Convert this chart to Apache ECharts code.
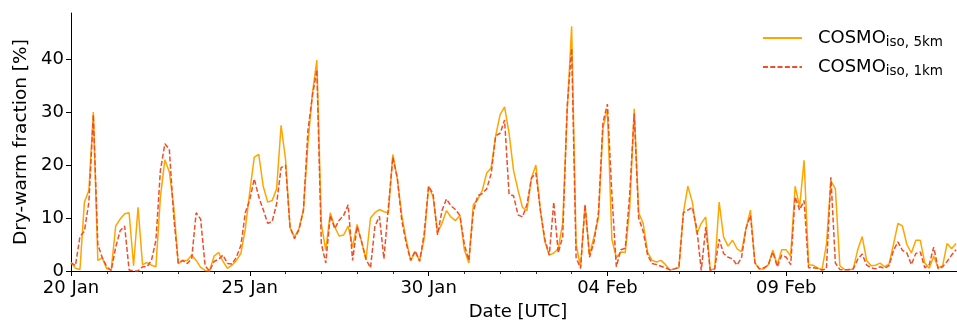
<!DOCTYPE html>
<html>
<head>
<meta charset="utf-8">
<script src="https://cdn.jsdelivr.net/npm/echarts@6/dist/echarts.min.js"></script>
<style>
    html, body { margin: 0; padding: 0; background: #fff; }
    #chart { width: 957px; height: 322px; }
</style>
</head>
<body>
<div id="chart"></div>
<script>
// 3-hourly values starting 20 Jan 00 UTC, one row per day
const startDate = Date.UTC(2020, 0, 20);
const stepHours = 3;
const monthNames = ['Jan', 'Feb', 'Mar', 'Apr', 'May', 'Jun', 'Jul', 'Aug', 'Sep', 'Oct', 'Nov', 'Dec'];

const fiveKm = [
    1.6, 0.5, 0.3, 13, 15.2, 30, 2, 2.5,
    0.4, 0.2, 8.5, 9.8, 10.8, 11, 1, 12,
    1.2, 1.6, 1.1, 0.8, 14, 21, 18.7, 12,
    1.4, 2, 2, 3.0, 2, 0.7, 0.1, 0,
    2.8, 3.5, 1.8, 0.5, 1.1, 2.0, 3.3, 8,
    15, 21.5, 22, 16, 13, 13.3, 15.5, 27.5,
    21, 8.2, 6.4, 8, 11.5, 24, 33.5, 39.8,
    8.9, 3.9, 11, 8.3, 6.6, 6.8, 8.5, 4.5,
    8.8, 5.5, 2.2, 10, 11, 11.6, 11.2, 11,
    22, 17.5, 10.5, 5.8, 2, 3.6, 2, 6,
    16, 14, 7.3, 9, 11.4, 10.2, 9.5, 10.5,
    4, 1.5, 12.5, 13.5, 15.2, 18.5, 19.5, 25.5,
    29.5, 31, 26, 19, 15.3, 12, 11.4, 17.5,
    20, 11.5, 5.5, 3, 3.4, 4.2, 9, 30,
    46.2, 5, 0.8, 12.5, 3, 6.5, 10, 27,
    30.5, 6, 2.5, 3.6, 3.5, 12, 30.6, 11,
    9, 3.5, 2, 1.7, 2, 1.2, 0.2, 0.4,
    0.6, 11, 16, 13, 7, 9, 10.2, 0.2,
    0.4, 13, 6.4, 4.7, 5.8, 4.2, 3.6, 8,
    11.5, 1.5, 0.4, 0.4, 1.2, 3.9, 1.2, 4,
    4, 2.8, 16, 12.1, 20.9, 1.2, 1.1, 0.6,
    0.2, 5, 17, 15.5, 1, 0.3, 0.2, 0.4,
    4, 6.5, 2, 1, 1.1, 1.5, 0.8, 1.3,
    5, 9, 8.5, 5, 3.4, 5.8, 5.8, 1.5,
    0.5, 2.8, 0.6, 1, 5.2, 4.2, 5.2
];

const oneKm = [
    1.6, 1.0, 6.5, 7.5, 13, 29.5, 5, 2.5,
    0.8, 0.1, 4.5, 7.6, 8.5, 0.2, 0, 0,
    0.8, 0.8, 2, 5.8, 19, 24, 23, 10,
    1.5, 2, 1.4, 2.3, 11, 9.8, 1, 0,
    1.8, 2.2, 3, 1.4, 1.3, 2.6, 4.8, 11,
    13.5, 17.4, 14, 11.6, 9, 9.3, 12.7, 19.5,
    20, 8.3, 6.1, 7.8, 11.5, 26.5, 33, 38,
    5.2, 1.5, 10.5, 8, 9.6, 10.5, 12.5, 2,
    8.4, 5.6, 2.2, 0.6, 8.5, 10.3, 2.3, 12,
    21.5, 17.5, 9.5, 5.2, 2, 3.8, 1.8, 7,
    16, 14.6, 6.8, 11.4, 13.6, 12.3, 11.6, 10.5,
    5, 2, 11.2, 14.2, 14.6, 15.5, 18.4, 25.5,
    26, 28.5, 14.5, 14.2, 10.6, 10.2, 12.5, 17.5,
    18.5, 11.5, 6, 3, 13, 3.4, 6.5, 31,
    42, 2.5, 0.5, 12.5, 2.6, 5.5, 11, 28,
    31.5, 14.5, 0.8, 4, 4.3, 14.6, 29.7, 10,
    7.5, 3, 1.4, 1.2, 0.9, 0.6, 0.2, 0.4,
    0.7, 11, 11.5, 12, 8, 0.1, 8.3, 0.1,
    0.4, 6, 3.3, 2.6, 2.3, 1.1, 2.5, 8,
    10.5, 1.6, 0.4, 0.6, 1.1, 3.6, 0.8, 3,
    2.6, 1.2, 14, 11.5, 13.3, 0.6, 0.6, 0.5,
    0.2, 0.4, 17.7, 1.5, 0.3, 0.2, 0.3, 0.4,
    2.2, 3.2, 1.1, 0.6, 0.4, 0.8, 0.5, 1,
    3.9, 5.5, 3.9, 3.4, 1.2, 3.3, 3.6, 0.6,
    1.2, 4.5, 0.4, 0.8, 1.8, 3, 4
];

const seriesNames = ['COSMO iso, 5km', 'COSMO iso, 1km'];
const subscripts = {'COSMO iso, 5km': 'iso, 5km', 'COSMO iso, 1km': 'iso, 1km'};
const yTicks = [0, 10, 20, 30, 40];

// x is in days since startDate
const toPairs = (values) => values.map((v, i) => [i * stepHours / 24, v]);

const dayLabel = (days) => {
    const d = new Date(startDate + days * 86400000);
    return String(d.getUTCDate()).padStart(2, '0') + ' ' + monthNames[d.getUTCMonth()];
};

const chart = echarts.init(document.getElementById('chart'), null, {renderer: 'canvas'});

const option = {
    animation: false,
    textStyle: {fontFamily: 'DejaVu Sans', color: '#000'},
    // the axis runs a little past the right edge, so 13 Feb 18h sits on the border
    grid: {left: 71, right: -8, top: 13, bottom: 51, outerBoundsMode: 'none', containLabel: false},
    legend: {
        orient: 'vertical',
        right: 14,
        top: 29,
        padding: 0,
        itemWidth: 39,
        itemHeight: 14,
        itemGap: 9,
        data: seriesNames,
        // hide the circle ECharts puts on line legend icons
        itemStyle: {opacity: 0, borderWidth: 0},
        formatter: (name) => `{main|COSMO}{sub|${subscripts[name]}}`,
        textStyle: {
            rich: {
                main: {fontSize: 18, lineHeight: 22, padding: [0, 0, 0, 11], color: '#000', fontFamily: 'DejaVu Sans'},
                sub: {fontSize: 13.5, lineHeight: 15, verticalAlign: 'bottom', color: '#000', fontFamily: 'DejaVu Sans'}
            }
        }
    },
    xAxis: {
        type: 'value',
        min: 0,
        max: 25,
        interval: 5,
        name: 'Date [UTC]',
        nameLocation: 'middle',
        nameGap: 32,
        nameTextStyle: {fontSize: 18, color: '#000'},
        axisLine: {lineStyle: {color: '#000', width: 1}},
        axisTick: {length: 5, lineStyle: {color: '#000', width: 1}},
        minorTick: {show: true, splitNumber: 5, length: 3, lineStyle: {color: '#000', width: 0.8}},
        axisLabel: {fontSize: 18, color: '#000', margin: 8, showMaxLabel: false, formatter: dayLabel},
        splitLine: {show: false}
    },
    yAxis: {
        type: 'value',
        min: 0,
        max: 48.7,
        interval: 10,
        name: 'Dry-warm fraction [%]',
        nameLocation: 'middle',
        nameRotate: 90,
        nameGap: 38,
        nameTextStyle: {fontSize: 18.5, color: '#000'},
        axisLine: {show: true, lineStyle: {color: '#000', width: 1}},
        axisTick: {show: true, length: 5, customValues: yTicks, lineStyle: {color: '#000', width: 1}},
        axisLabel: {fontSize: 18, color: '#000', margin: 7, customValues: yTicks},
        splitLine: {show: false}
    },
    series: [
        {
            name: seriesNames[0],
            type: 'line',
            data: toPairs(fiveKm),
            symbol: 'none',
            showSymbol: false,
            lineStyle: {color: '#ffa500', width: 1.5},
            itemStyle: {color: '#ffa500'},
            z: 2
        },
        {
            name: seriesNames[1],
            type: 'line',
            data: toPairs(oneKm),
            symbol: 'none',
            showSymbol: false,
            lineStyle: {color: '#f04e2a', width: 1.5, type: [5, 2.3]},
            itemStyle: {color: '#f04e2a'},
            z: 3
        }
    ]
};

chart.setOption(option);
</script>
</body>
</html>
